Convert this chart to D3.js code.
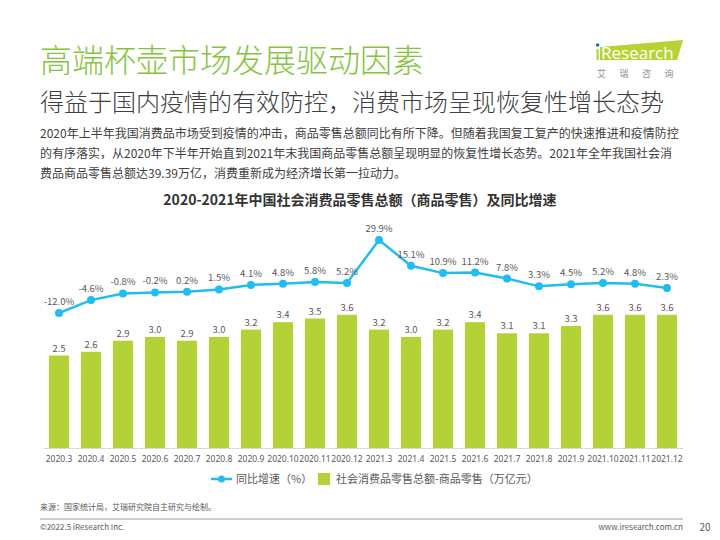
<!DOCTYPE html>
<html>
<head>
<meta charset="utf-8">
<script src="https://cdn.jsdelivr.net/npm/d3@7"></script>
<style>
  body { margin: 0; background: #fff; }
  svg { font-family: "Noto Sans CJK SC", "Noto Sans", sans-serif; }
</style>
</head>
<body>
<div id="chart"></div>
<script>
// months on the x axis
const months = ["2020.3", "2020.4", "2020.5", "2020.6", "2020.7", "2020.8", "2020.9", "2020.10", "2020.11", "2020.12",
    "2021.3", "2021.4", "2021.5", "2021.6", "2021.7", "2021.8", "2021.9", "2021.10", "2021.11", "2021.12"];
// 商品零售总额, 万亿元
const retail = [2.5, 2.6, 2.9, 3.0, 2.9, 3.0, 3.2, 3.4, 3.5, 3.6,
    3.2, 3.0, 3.2, 3.4, 3.1, 3.1, 3.3, 3.6, 3.6, 3.6];
// 同比增速, %
const growth = [-12.0, -4.6, -0.8, -0.2, 0.2, 1.5, 4.1, 4.8, 5.8, 5.2,
    29.9, 15.1, 10.9, 11.2, 7.8, 3.3, 4.5, 5.2, 4.8, 2.3];

const textLines = [
    "2020年上半年我国消费品市场受到疫情的冲击，商品零售总额同比有所下降。但随着我国复工复产的快速推进和疫情防控",
    "的有序落实，从2020年下半年开始直到2021年末我国商品零售总额呈现明显的恢复性增长态势。2021年全年我国社会消",
    "费品商品零售总额达39.39万亿，消费重新成为经济增长第一拉动力。"
];

const width = 720, height = 540;
const barColor = "#b2d235";
const lineColor = "#22bdee";
const grey = "#595959";

let svg = d3.select("#chart")
    .append("svg")
    .attr("width", width)
    .attr("height", height);

// page title
svg.append("text")
    .attr("x", 40)
    .attr("y", 72)
    .attr("font-size", 32)
    .attr("font-weight", 300)
    .attr("fill", "#86c440")
    .text("高端杯壶市场发展驱动因素");

svg.append("text")
    .attr("x", 40)
    .attr("y", 111)
    .attr("font-size", 24)
    .attr("font-weight", 300)
    .attr("fill", "#404040")
    .text("得益于国内疫情的有效防控，消费市场呈现恢复性增长态势");

svg.selectAll("text.para")
    .data(textLines)
    .enter()
    .append("text")
    .attr("class", "para")
    .attr("x", 40)
    .attr("y", function(d, i) {return 138 + 20*i;})
    .attr("font-size", 12)
    .attr("fill", "#404040")
    .text(function(d) {return d;});

// logo
let logo = svg.append("g");
logo.append("path")
    .attr("d", "M600,47 L683,40 L677,60 L600,60 Z")
    .attr("fill", "#b5d334");
logo.append("rect")
    .attr("x", 596.5)
    .attr("y", 49)
    .attr("width", 2.2)
    .attr("height", 11)
    .attr("fill", "#b5d334");
logo.append("circle")
    .attr("cx", 597.6)
    .attr("cy", 45)
    .attr("r", 1.8)
    .attr("fill", "#1a6fc0");
logo.append("text")
    .attr("x", 601)
    .attr("y", 58.5)
    .attr("font-size", 17)
    .attr("font-family", "Open Sans, sans-serif")
    .attr("fill", "#fff")
    .text("Research");
logo.append("text")
    .attr("x", 597)
    .attr("y", 77)
    .attr("font-size", 9)
    .attr("letter-spacing", 13.5)
    .attr("fill", "#8c8c8c")
    .text("艾瑞咨询");

// chart title
svg.append("text")
    .attr("x", 360)
    .attr("y", 205)
    .attr("text-anchor", "middle")
    .attr("font-size", 14)
    .attr("font-weight", "bold")
    .attr("fill", "#333")
    .text("2020-2021年中国社会消费品零售总额（商品零售）及同比增速");

// scales
const x = d3.scaleBand()
    .domain(months)
    .range([43, 683])
    .paddingInner(0.375)
    .paddingOuter(0.1875);

const yBar = d3.scaleLinear()
    .domain([0, 4.5])
    .range([448, 448 - 4.5*37]);

const yLine = d3.scaleLinear()
    .domain([-12, 29.9])
    .range([313, 240]);

const barData = months.map(function(m, i) {return {m: m, v: retail[i]};});
const lineData = months.map(function(m, i) {return {m: m, v: growth[i]};});

// bars
svg.selectAll("rect.bar")
    .data(barData)
    .enter()
    .append("rect")
    .attr("class", "bar")
    .attr("x", function(d) {return x(d.m);})
    .attr("y", function(d) {return yBar(d.v);})
    .attr("width", x.bandwidth())
    .attr("height", function(d) {return yBar(0) - yBar(d.v);})
    .attr("fill", barColor);

svg.selectAll("text.barlabel")
    .data(barData)
    .enter()
    .append("text")
    .attr("class", "barlabel")
    .attr("x", function(d) {return x(d.m) + x.bandwidth()/2;})
    .attr("y", function(d) {return yBar(d.v) - 4;})
    .attr("text-anchor", "middle")
    .attr("font-size", 9.5)
    .attr("fill", grey)
    .text(function(d) {return d.v.toFixed(1);});

// x axis
const xAxis = svg.append("g")
    .attr("transform", "translate(0,448)")
    .call(d3.axisBottom(x).tickSize(0).tickPadding(8));
xAxis.select(".domain").attr("stroke", "#d9d9d9");
xAxis.selectAll("text")
    .attr("font-size", 8.5)
    .attr("font-family", "Noto Sans, sans-serif")
    .attr("fill", grey);

// growth line
const line = d3.line()
    .x(function(d) {return x(d.m) + x.bandwidth()/2;})
    .y(function(d) {return yLine(d.v);});

svg.append("path")
    .datum(lineData)
    .attr("d", line)
    .attr("fill", "none")
    .attr("stroke", lineColor)
    .attr("stroke-width", 2.5);

svg.selectAll("circle.pt")
    .data(lineData)
    .enter()
    .append("circle")
    .attr("class", "pt")
    .attr("cx", function(d) {return x(d.m) + x.bandwidth()/2;})
    .attr("cy", function(d) {return yLine(d.v);})
    .attr("r", 4)
    .attr("fill", lineColor);

svg.selectAll("text.linelabel")
    .data(lineData)
    .enter()
    .append("text")
    .attr("class", "linelabel")
    .attr("x", function(d) {return x(d.m) + x.bandwidth()/2;})
    .attr("y", function(d) {return yLine(d.v) - 8;})
    .attr("text-anchor", "middle")
    .attr("font-size", 9.5)
    .attr("fill", grey)
    .text(function(d) {return d.v.toFixed(1) + "%";});

// legend
let legend = svg.append("g");
legend.append("line")
    .attr("x1", 211).attr("y1", 479)
    .attr("x2", 232).attr("y2", 479)
    .attr("stroke", lineColor)
    .attr("stroke-width", 2.5);
legend.append("circle")
    .attr("cx", 221.5).attr("cy", 479)
    .attr("r", 3.5)
    .attr("fill", lineColor);
legend.append("text")
    .attr("x", 236).attr("y", 483)
    .attr("font-size", 11)
    .attr("fill", grey)
    .text("同比增速（%）");
legend.append("rect")
    .attr("x", 318).attr("y", 473)
    .attr("width", 12).attr("height", 12)
    .attr("fill", barColor);
legend.append("text")
    .attr("x", 336).attr("y", 483)
    .attr("font-size", 11)
    .attr("fill", grey)
    .text("社会消费品零售总额-商品零售（万亿元）");

// footer
svg.append("text")
    .attr("x", 40).attr("y", 510)
    .attr("font-size", 8)
    .attr("fill", grey)
    .text("来源：国家统计局，艾瑞研究院自主研究与绘制。");
svg.append("line")
    .attr("x1", 40).attr("y1", 519)
    .attr("x2", 683).attr("y2", 519)
    .attr("stroke", "#bfbfbf")
    .attr("stroke-width", 1.5);
svg.append("text")
    .attr("x", 40).attr("y", 530)
    .attr("font-size", 8)
    .attr("fill", grey)
    .text("©2022.5 iResearch Inc.");
svg.append("text")
    .attr("x", 683).attr("y", 530)
    .attr("text-anchor", "end")
    .attr("font-size", 8)
    .attr("fill", grey)
    .text("www.iresearch.com.cn");
svg.append("text")
    .attr("x", 705).attr("y", 531)
    .attr("text-anchor", "middle")
    .attr("font-size", 10)
    .attr("fill", grey)
    .text("20");
</script>
</body>
</html>
